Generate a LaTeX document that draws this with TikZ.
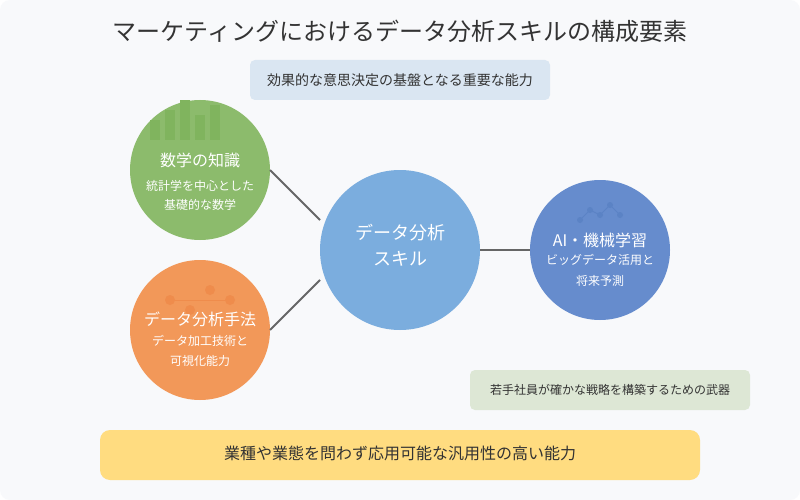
\documentclass[tikz,border=0pt]{standalone}
\usepackage{fontspec}
\setmainfont{Noto Sans CJK JP}
\usepackage{tikz}
\definecolor{pagebg}{HTML}{F8F9FB}
\definecolor{mathgreen}{HTML}{8CBB6C}
\definecolor{mathbar}{HTML}{80B45E}
\definecolor{methodorange}{HTML}{F29859}
\definecolor{methodmark}{HTML}{EF8C4C}
\definecolor{aiblue}{HTML}{668CCD}
\definecolor{aimark}{HTML}{5B83C5}
\definecolor{skillblue}{HTML}{7BADDE}
\definecolor{topbox}{HTML}{DAE6F2}
\definecolor{sidebox}{HTML}{DDE7D5}
\definecolor{bottombox}{HTML}{FFDC80}
\definecolor{titlegray}{HTML}{333333}
\definecolor{linkgray}{HTML}{666666}
\tikzset{
  blob/.style={circle, inner sep=0pt, outer sep=0pt},
  band/.style={rounded corners=5pt, inner sep=0pt, outer sep=0pt, text=titlegray},
  head/.style={text=white, inner sep=0pt, font=\fontsize{16}{16}\selectfont},
  sub/.style={text=white, inner sep=0pt, font=\fontsize{12}{12}\selectfont},
  link/.style={draw=linkgray, line width=2pt}
}
\begin{document}
\begin{tikzpicture}[x=1pt, y=-1pt]
\useasboundingbox (0,0) rectangle (800,500);
\fill[white] (0,0) rectangle (800,500);
\fill[pagebg, rounded corners=10pt] (0,0) rectangle (800,500);

\node[text=titlegray, inner sep=0pt, font=\fontsize{24}{24}\selectfont] (title) at (400,31) {マーケティングにおけるデータ分析スキルの構成要素};
\node[band, fill=topbox, minimum width=300pt, minimum height=40pt, font=\fontsize{14}{14}\selectfont] (purpose) at (400,80) {効果的な意思決定の基盤となる重要な能力};

% links first, circles on top
\coordinate (mathend) at (320,220);
\coordinate (methodend) at (320,280);

\node[blob, fill=mathgreen, minimum size=140pt] (math) at (200,170) {};
\node[blob, fill=methodorange, minimum size=140pt] (method) at (200,330) {};
\node[blob, fill=skillblue, minimum size=160pt] (skill) at (400,250) {};
\node[blob, fill=aiblue, minimum size=140pt] (ai) at (600,250) {};

\draw[link] (math.east) -- (mathend);
\draw[link] (method.east) -- (methodend);
\draw[link] (skill.east) -- (ai.west);

% bars
\foreach \x/\y in {150/120, 165/110, 180/100, 195/115, 210/105}
  \fill[mathbar] (\x,\y) rectangle (\x+10,140);

% orange dots
\draw[methodmark, line width=1pt] (170,300) -- (230,300);
\foreach \x/\y in {170/300, 190/310, 210/290, 230/300}
  \fill[methodmark] (\x,\y) circle (5);

% blue dots
\draw[aimark, line width=1pt] (580,220) -- (590,210) -- (600,215) -- (610,205) -- (620,215);
\foreach \x/\y in {580/220, 590/210, 600/215, 610/205, 620/215}
  \fill[aimark] (\x,\y) circle (3);

\node[head] (mathhead) at (200,160) {数学の知識};
\node[sub] (mathsub) at (200,186) {統計学を中心とした};
\node[sub] (mathsubb) at (200,205) {基礎的な数学};

\node[head] (methodhead) at (200,319.5) {データ分析手法};
\node[sub] (methodsub) at (200,341) {データ加工技術と};
\node[sub] (methodsubb) at (200,360.5) {可視化能力};

\node[text=white, inner sep=0pt, font=\fontsize{18}{18}\selectfont] (skillhead) at (400,232.5) {データ分析};
\node[text=white, inner sep=0pt, font=\fontsize{18}{18}\selectfont] (skillheadb) at (400,258.5) {スキル};

\node[head] (aihead) at (600,240) {AI・機械学習};
\node[sub] (aisub) at (600,260) {ビッグデータ活用と};
\node[sub] (aisubb) at (600,281) {将来予測};

\node[band, fill=sidebox, minimum width=280pt, minimum height=40pt, font=\fontsize{12}{12}\selectfont] (weapon) at (610,390) {若手社員が確かな戦略を構築するための武器};
\node[band, rounded corners=10pt, fill=bottombox, minimum width=600pt, minimum height=50pt] (general) at (400,455) {};
\node[text=titlegray, inner sep=0pt, font=\fontsize{16}{16}\selectfont] (generaltext) at (400,453.5) {業種や業態を問わず応用可能な汎用性の高い能力};
\end{tikzpicture}
\end{document}
